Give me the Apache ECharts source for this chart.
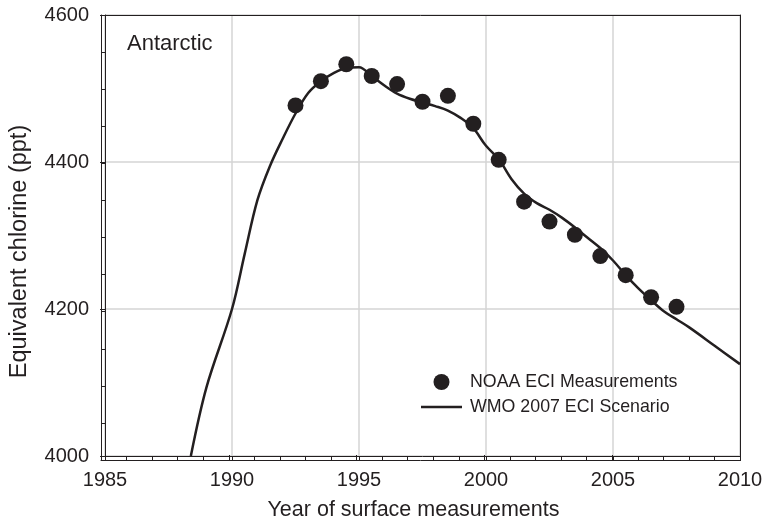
<!DOCTYPE html>
<html>
<head>
<meta charset="utf-8">
<script src="https://cdn.jsdelivr.net/npm/echarts@6/dist/echarts.min.js"></script>
<style>
  html, body { margin: 0; padding: 0; background: #ffffff; }
  #chart { width: 766px; height: 526px; }
</style>
</head>
<body>
<div id="chart"></div>
<script>
// NOAA equivalent chlorine measurements (mid-year values, ppt)
const measureYears = [1992.5, 1993.5, 1994.5, 1995.5, 1996.5, 1997.5, 1998.5, 1999.5,
                      2000.5, 2001.5, 2002.5, 2003.5, 2004.5, 2005.5, 2006.5, 2007.5];
const measureValues = [4477, 4510, 4533, 4517, 4506, 4482, 4490, 4452,
                       4403, 4346, 4319, 4301, 4272, 4246, 4216, 4203];

// WMO 2007 scenario curve
const scenarioYears = [1988.38, 1989.0, 1990.0, 1990.5, 1991.0, 1991.5, 1992.0, 1992.5,
                       1993.0, 1993.5, 1994.0, 1994.5, 1995.0, 1995.5, 1996.0, 1996.5,
                       1997.0, 1997.5, 1998.0, 1998.5, 1999.0, 1999.5, 2000.0, 2000.5,
                       2001.0, 2001.5, 2002.0, 2002.5, 2003.0, 2003.5, 2004.0, 2004.5,
                       2005.0, 2005.5, 2006.0, 2006.5, 2007.0, 2007.5, 2008.0, 2009.0, 2010.0];
const scenarioValues = [4000, 4094, 4200, 4275, 4348, 4395, 4432, 4466,
                        4494, 4510, 4521, 4528, 4529, 4517, 4504, 4493,
                        4486, 4481, 4476, 4470, 4460, 4446, 4422, 4404,
                        4377, 4357, 4344, 4335, 4324, 4311, 4297, 4283,
                        4266, 4246, 4228, 4212, 4197, 4186, 4175, 4150, 4125];

const xTicks = { min: 1985, max: 2010, step: 5 };
const yTicks = { min: 4000, max: 4600, step: 200 };

const seriesNames = ['NOAA ECI Measurements', 'WMO 2007 ECI Scenario'];
const regionLabel = 'Antarctic';
const xTitle = 'Year of surface measurements';
const yTitle = 'Equivalent chlorine (ppt)';

const ink = '#231f20';
const font = "'Liberation Sans', Arial, Helvetica, sans-serif";

const measurePoints = measureYears.map((y, i) => [y, measureValues[i]]);
const scenarioPoints = scenarioYears.map((y, i) => [y, scenarioValues[i]]);

const chart = echarts.init(document.getElementById('chart'), null, { renderer: 'canvas' });

const plotRect = { left: 101, right: 26, top: 15, bottom: 66, containLabel: false };
const xRange = { type: 'value', min: xTicks.min, max: xTicks.max, interval: xTicks.step };
const yRange = { type: 'value', min: yTicks.min, max: yTicks.max, interval: yTicks.step };
const inkLine = { show: true, onZero: false, lineStyle: { color: ink, width: 1 } };
const inkTick = { color: ink, width: 1 };
const plainNumber = v => String(v);
const hidden = { show: false };

chart.setOption({
  animation: false,
  backgroundColor: '#ffffff',
  textStyle: { fontFamily: font, color: ink },
  // grid 0 carries the data, labels and outward ticks;
  // grid 1 (same rectangle) carries the frame and the inward ticks
  grid: [Object.assign({}, plotRect), Object.assign({}, plotRect)],
  xAxis: [
    Object.assign({}, xRange, {
      gridIndex: 0, position: 'bottom',
      name: xTitle, nameLocation: 'middle', nameGap: 43,
      nameTextStyle: { fontSize: 21.5, color: ink, fontFamily: font, padding: [0, 18, 0, 0] },
      axisLine: inkLine,
      axisTick: { show: true, inside: false, length: 5, lineStyle: inkTick },
      axisLabel: { fontSize: 20, color: ink, margin: 14, fontFamily: font, formatter: plainNumber },
      splitLine: { show: true, lineStyle: { color: '#d4d4d4', width: 1.5 } }
    }),
    Object.assign({}, xRange, {
      gridIndex: 1, position: 'bottom',
      axisLine: inkLine,
      axisTick: { show: true, inside: true, length: 5, lineStyle: inkTick },
      minorTick: { show: true, splitNumber: 5, length: 4, lineStyle: inkTick },
      axisLabel: hidden, splitLine: hidden
    }),
    Object.assign({}, xRange, {
      gridIndex: 1, position: 'top',
      axisLine: inkLine,
      axisTick: hidden, axisLabel: hidden, splitLine: hidden
    })
  ],
  yAxis: [
    Object.assign({}, yRange, {
      gridIndex: 0, position: 'left',
      name: yTitle, nameLocation: 'middle', nameGap: 73,
      nameTextStyle: { fontSize: 23.5, color: ink, fontFamily: font, padding: [0, 32, 0, 0] },
      axisLine: inkLine,
      axisTick: { show: true, inside: false, length: 5, lineStyle: inkTick },
      axisLabel: { fontSize: 20, color: ink, margin: 16, fontFamily: font, formatter: plainNumber },
      splitLine: { show: true, lineStyle: { color: '#d4d4d4', width: 1.5 } }
    }),
    Object.assign({}, yRange, {
      gridIndex: 1, position: 'left',
      axisLine: inkLine,
      axisTick: { show: true, inside: true, length: 5, lineStyle: inkTick },
      minorTick: { show: true, splitNumber: 4, length: 5, lineStyle: inkTick },
      axisLabel: hidden, splitLine: hidden
    }),
    Object.assign({}, yRange, {
      gridIndex: 1, position: 'right',
      axisLine: inkLine,
      axisTick: hidden, axisLabel: hidden, splitLine: hidden
    })
  ],
  legend: {
    orient: 'vertical',
    left: 421, top: 373,
    padding: 0,
    itemWidth: 41, itemHeight: 16, itemGap: 7,
    symbolKeepAspect: true,
    textStyle: { fontSize: 17.8, lineHeight: 16, color: ink, fontFamily: font, padding: [0, 0, 0, 3] },
    data: [
      { name: seriesNames[0], icon: 'circle' },
      { name: seriesNames[1], icon: 'path://M0,0 L41,0 L41,2.4 L0,2.4 Z' }
    ]
  },
  graphic: [{
    type: 'text',
    left: 127, top: 33,
    style: { text: regionLabel, fontSize: 22, fill: ink, fontFamily: font }
  }],
  series: [
    {
      name: seriesNames[1],
      type: 'line',
      xAxisIndex: 0, yAxisIndex: 0,
      data: scenarioPoints,
      smooth: 0.35,
      symbol: 'none',
      clip: true,
      lineStyle: { color: ink, width: 2.5 },
      itemStyle: { color: ink },
      z: 3
    },
    {
      name: seriesNames[0],
      type: 'scatter',
      xAxisIndex: 0, yAxisIndex: 0,
      data: measurePoints,
      symbol: 'circle',
      symbolSize: 16,
      itemStyle: { color: ink, opacity: 1 },
      z: 4
    }
  ]
});
</script>
</body>
</html>
